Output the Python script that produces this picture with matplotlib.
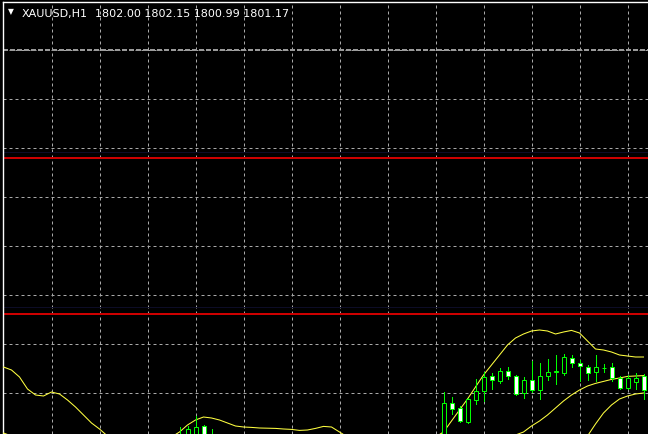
import numpy as np
import matplotlib
matplotlib.use('Agg')
import matplotlib.pyplot as plt
from matplotlib.patches import Rectangle

# candles that are visible in the window (bar index, OHLC)
bar_idx = [22, 23, 24, 25, 26] + list(range(55, 81))
opens = [1797.70, 1798.00, 1797.90, 1798.64, 1798.15,
         1798.00, 1799.78, 1799.55, 1798.84, 1799.95, 1800.39, 1801.14, 1800.90, 1801.38, 1801.14,
         1800.28, 1800.97, 1800.47, 1801.14, 1801.36, 1801.29, 1802.07, 1801.80, 1801.59, 1801.34,
         1801.54, 1801.59, 1801.06, 1800.53, 1800.84, 1801.13]
highs = [1798.58, 1798.63, 1799.13, 1798.68, 1798.50,
         1800.33, 1800.08, 1799.67, 1800.03, 1801.00, 1801.34, 1801.28, 1801.53, 1801.58, 1801.20,
         1801.08, 1801.88, 1801.80, 1801.98, 1802.20, 1802.25, 1802.20, 1801.97, 1801.70, 1802.20,
         1801.75, 1801.80, 1801.14, 1801.20, 1801.28, 1801.23]
lows = [1797.50, 1797.80, 1797.70, 1797.85, 1797.60,
        1797.80, 1799.25, 1798.85, 1798.80, 1799.75, 1799.92, 1800.50, 1800.78, 1800.98, 1800.20,
        1800.03, 1800.35, 1800.00, 1800.95, 1800.73, 1801.19, 1801.59, 1800.90, 1800.97, 1800.92,
        1801.33, 1800.90, 1800.50, 1800.48, 1800.48, 1799.98]
closes = [1798.20, 1798.50, 1798.59, 1798.00, 1797.75,
          1799.78, 1799.50, 1798.92, 1800.00, 1800.40, 1801.09, 1800.93, 1801.39, 1801.14, 1800.24,
          1800.97, 1800.47, 1801.14, 1801.34, 1801.39, 1802.11, 1801.79, 1801.65, 1801.29, 1801.59,
          1801.55, 1801.04, 1800.54, 1801.06, 1801.04, 1800.47]

# bollinger bands, bars 0..80
bb_upper = [1801.60, 1801.45, 1801.10, 1800.50, 1800.20, 1800.15, 1800.35, 1800.25, 1799.95, 1799.60,
            1799.20, 1798.80, 1798.50, 1798.15, 1797.90, 1797.70, 1797.60, 1797.55, 1797.65, 1797.75,
            1797.90, 1798.10, 1798.35, 1798.70, 1798.95, 1799.10, 1799.05, 1798.95, 1798.80, 1798.65,
            1798.60, 1798.58, 1798.55, 1798.54, 1798.53, 1798.50, 1798.48, 1798.43, 1798.45, 1798.53,
            1798.63, 1798.60, 1798.35, 1798.10, 1797.85, 1797.65, 1797.50, 1797.45, 1797.40, 1797.40,
            1797.45, 1797.55, 1797.70, 1797.90, 1798.10, 1798.35, 1798.90, 1799.45, 1800.00, 1800.60,
            1801.20, 1801.70, 1802.20, 1802.70, 1803.05, 1803.25, 1803.40, 1803.45, 1803.40, 1803.25,
            1803.35, 1803.43, 1803.30, 1802.90, 1802.50, 1802.45, 1802.35, 1802.20, 1802.15, 1802.10,
            1802.10]
bb_middle = [1798.30, 1798.15, 1797.95, 1797.70, 1797.45, 1797.25, 1797.05, 1796.85, 1796.65, 1796.45,
             1796.30, 1796.15, 1796.00, 1795.90, 1795.80, 1795.75, 1795.70, 1795.70, 1795.70, 1795.75,
             1795.80, 1795.90, 1796.00, 1796.10, 1796.20, 1796.30, 1796.35, 1796.40, 1796.45, 1796.50,
             1796.55, 1796.60, 1796.65, 1796.70, 1796.75, 1796.80, 1796.85, 1796.85, 1796.90, 1796.90,
             1796.95, 1796.95, 1796.95, 1796.90, 1796.85, 1796.80, 1796.75, 1796.70, 1796.70, 1796.70,
             1796.75, 1796.85, 1797.00, 1797.15, 1797.30, 1797.40, 1797.50, 1797.60, 1797.70, 1797.80,
             1797.90, 1798.00, 1798.08, 1798.15, 1798.20, 1798.35, 1798.65, 1798.90, 1799.20, 1799.55,
             1799.90, 1800.20, 1800.45, 1800.65, 1800.78, 1800.88, 1800.98, 1801.05, 1801.13, 1801.15,
             1801.17]
lower_idx = list(range(70, 81))
bb_lower = [1796.50, 1797.10, 1797.65, 1798.15, 1798.75, 1799.30, 1799.70, 1800.00, 1800.15, 1800.25, 1800.30]

# horizontal line objects
red_levels = [1812.05, 1804.25]
gray_level = 1817.45
navy_levels = [1812.375, 1804.625]
grid_prices = [1817.475, 1815.025, 1812.575, 1810.125, 1807.675, 1805.225, 1802.775, 1800.325]
grid_bars = [6, 12, 18, 24, 30, 36, 42, 48, 54, 60, 66, 72, 78]

title_sym = 'XAUUSD,H1'
title_vals = '1802.00 1802.15 1800.99 1801.17'

Y_LOW, Y_HIGH = 1798.25, 1819.875


def hide_offscreen(vals, lo):
    # drop points that are off the window on both sides, keep the ones next to the edge
    y = np.array(vals, dtype=float)
    below = y < lo
    keep = ~below | np.r_[False, ~below[:-1]] | np.r_[~below[1:], False]
    y[~keep] = np.nan
    return y


W, H = 648, 435
fig = plt.figure(figsize=(W / 100, H / 100), dpi=100, facecolor='black')
ax = fig.add_axes([2.5 / W, 0, 1 - 2.5 / W, 1 - 2.5 / H])
ax.set_facecolor('black')
ax.set_xlim(-0.125, 80.5625)
ax.set_ylim(Y_LOW, Y_HIGH)
ax.set_xticks([])
ax.set_yticks([])
for side in ['right', 'bottom']:
    ax.spines[side].set_visible(False)
for side in ['left', 'top']:
    ax.spines[side].set_color('white')
    ax.spines[side].set_linewidth(1.0)

grid_style = dict(color='#a8a8a8', lw=0.72, ls=(0, (3, 3)), zorder=1)
for b in grid_bars:
    ax.axvline(b, **grid_style)
for p in grid_prices:
    ax.axhline(p, **grid_style)

ax.axhline(gray_level, color='#9a9a9a', lw=1.44, ls=(0, (2.5, 1)), zorder=2)
for p in navy_levels:
    ax.axhline(p, color='#0c0c26', lw=0.72, zorder=2)
for p in red_levels:
    ax.axhline(p, color='#cc0000', lw=1.44, zorder=2)

bars = np.arange(len(bb_upper))
band_style = dict(color='#ffff40', lw=0.75, zorder=3)
ax.plot(bars, hide_offscreen(bb_upper, Y_LOW), **band_style)
ax.plot(bars, hide_offscreen(bb_middle, Y_LOW), **band_style)
ax.plot(lower_idx, hide_offscreen(bb_lower, Y_LOW), **band_style)

for i, o, h, l, c in zip(bar_idx, opens, highs, lows, closes):
    ax.plot([i, i], [max(l, Y_LOW - 0.3), h], color='#00ff00', lw=0.72, zorder=4)
    fill = 'black' if c >= o else 'white'
    lo_b = max(min(o, c), Y_LOW - 0.3)
    ax.add_patch(Rectangle((i - 0.25, lo_b), 0.5, max(o, c) - lo_b,
                           facecolor=fill, edgecolor='#00ff00', lw=0.72, zorder=5))

fig.text(10.8 / W, 1 - 14.5 / H, '\u25bc', color='white', fontsize=5.5,
         ha='center', va='baseline')
fig.text(21.5 / W, 1 - 17.3 / H, title_sym, color='white', fontsize=8, va='baseline')
fig.text(95 / W, 1 - 17.3 / H, title_vals, color='white', fontsize=8, va='baseline')

fig.savefig('out.png', dpi=100, facecolor='black')
